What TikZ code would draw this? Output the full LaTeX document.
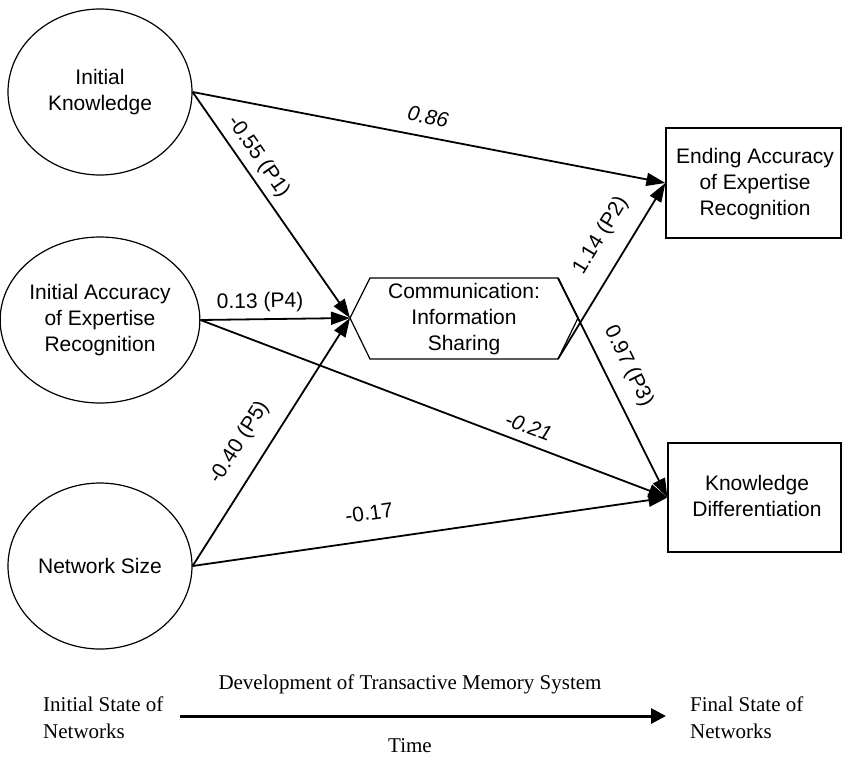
\documentclass[tikz,border=0pt]{standalone}
\usepackage{fontspec}
\setmainfont{Liberation Sans}
\newfontfamily\tnr{Liberation Serif}
\usetikzlibrary{shapes.geometric,arrows.meta}
\begin{document}
\begin{tikzpicture}[x=1pt,y=-1pt,
  every node/.style={font=\fontsize{21}{26}\selectfont},
  latent/.style={draw,line width=1.2pt,ellipse,minimum width=184pt,minimum height=166pt,inner sep=0pt,align=center},
  outbox/.style={draw,line width=1.2pt,rectangle,inner sep=0pt,align=center},
  txt/.style={align=center,inner sep=0pt},
  path/.style={line width=1.8pt,-{Triangle[length=19pt,width=13pt]}},
  lab/.style={sloped,inner sep=0pt},
  itl/.style={font=\itshape\fontsize{21}{26}\selectfont},
  serif/.style={font=\tnr\fontsize{21}{27}\selectfont,align=left,inner sep=0pt}]
\useasboundingbox (0,0) rectangle (842,758);

% latent variables
\node[latent] (ik) at (100,92) {Initial\\Knowledge};
\node[latent] (ia) at (100,320) {Initial Accuracy\\of Expertise\\Recognition};
\node[latent] (ns) at (100,566) {Network Size};

% outcome boxes
\node[outbox,minimum width=175pt,minimum height=110pt] (ea) at (753.5,183) {};
\node[txt] (eat) at (755,184) {Ending Accuracy\\of Expertise\\Recognition};
\node[outbox,minimum width=173pt,minimum height=109pt] (kd) at (754.5,497.5) {};
\node[txt] (kdt) at (757,496) {Knowledge\\Differentiation};

% communication hexagon
\coordinate (cl) at (350,318);
\coordinate (ctl) at (370,278);
\coordinate (ctr) at (558,278);
\coordinate (cr) at (578,318);
\coordinate (cbr) at (558,359);
\coordinate (cbl) at (370,359);
\draw[line width=1.2pt] (cl) -- (ctl) -- (ctr) -- (cr) -- (cbr) -- (cbl) -- cycle;
\node[txt] (comm) at (464,319) {Communication:\\Information\\Sharing};

% paths
\draw[path] (ik.east) -- node[lab,above=12pt,pos=0.49,itl] {0.86} (ea.west);
\draw[path] (ik.east) -- node[lab,above=6pt,pos=0.33] {-0.55 (P1)} (cl);
\draw[path] (ia.east) -- node[lab,above=6pt,pos=0.4] {0.13 (P4)} (cl);
\draw[path] (ia.east) -- node[lab,above=8.5pt,pos=0.69,itl] {-0.21} (kd.west);
\draw[path] (ns.east) -- node[lab,above=16pt,pos=0.44] {-0.40 (P5)} (cl);
\draw[path] (ns.east) -- node[lab,above=19pt,pos=0.38] {-0.17} (kd.west);
\draw[path] (cbr) -- node[lab,above=17pt,pos=0.62] {1.14 (P2)} (ea.west);
\draw[path] (ctr) -- node[lab,above=13pt,pos=0.45] {0.97 (P3)} (kd.west);

% time axis
\node[serif,anchor=west] (is) at (43,718) {Initial State of\\Networks};
\node[serif,anchor=west] (fs) at (690,718) {Final State of\\Networks};
\coordinate (ts) at (180,716);
\coordinate (te) at (666,716);
\draw[line width=3pt,-{Triangle[length=15pt,width=15pt]}] (ts) -- (te);
\node[serif,align=center] (dev) at (410,684) {Development of Transactive Memory System};
\node[serif,align=center] (time) at (410,746) {Time};
\end{tikzpicture}
\end{document}
